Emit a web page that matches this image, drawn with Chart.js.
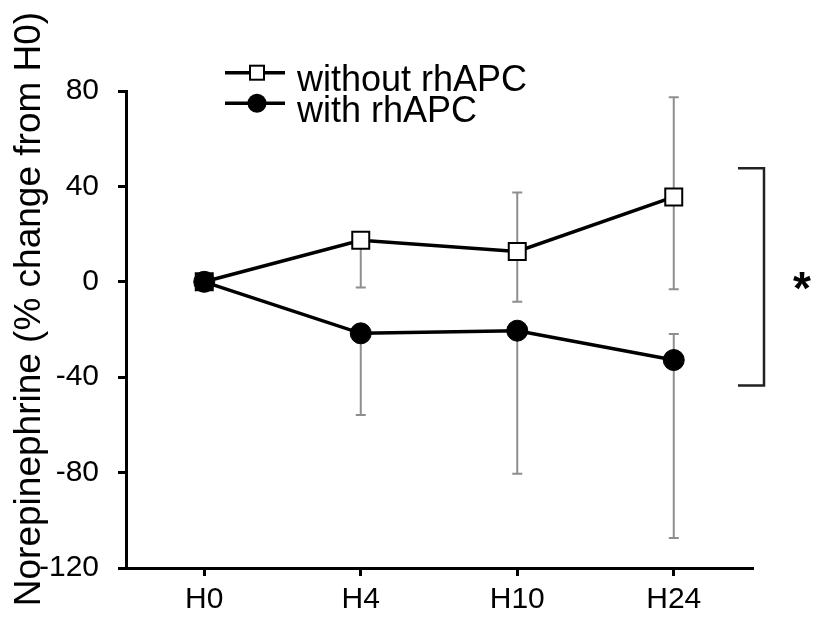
<!DOCTYPE html>
<html><head><meta charset="utf-8">
<script src="https://cdn.jsdelivr.net/npm/chart.js@4/dist/chart.umd.min.js"></script>
<style>html,body{margin:0;padding:0;background:#fff}#wrap{width:814px;height:624px}</style>
</head><body><div id="wrap"><canvas id="c" width="814" height="624"></canvas></div>
<script>
const categories = ['H0', 'H4', 'H10', 'H24'];
const seriesNames = ['without rhAPC', 'with rhAPC'];
const withoutValues = [0, 17.4, 12.7, 35.6];
const withoutUpper = [null, null, 37.4, 77.4];
const withoutLower = [null, -2.4, -8.4, -3.1];
const withValues = [0, -21.6, -20.5, -32.8];
const withUpper = [null, null, null, -21.9];
const withLower = [null, -55.8, -80.5, -107.4];
const yTicks = [-120, -80, -40, 0, 40, 80];
const yTitle = 'Norepinephrine (% change from H0)';
const bracketRange = [47.6, -43.5];
const significanceMark = '*';

const FONT = "'Liberation Sans', Arial, Helvetica, sans-serif";
Chart.defaults.font.family = FONT;
Chart.defaults.color = '#000';

const errorBars = {
  id: 'errorBars',
  beforeDatasetsDraw(chart) {
    const { ctx, scales: { x, y } } = chart;
    ctx.save();
    ctx.strokeStyle = '#8e8e8e';
    ctx.lineWidth = 2;
    const groups = [[withoutValues, withoutUpper, withoutLower], [withValues, withUpper, withLower]];
    groups.forEach(([vals, up, lo]) => {
      vals.forEach((v, i) => {
        const px = x.getPixelForValue(i);
        const py = y.getPixelForValue(v);
        [up[i], lo[i]].forEach(e => {
          if (e === null || e === undefined) return;
          const ey = y.getPixelForValue(e);
          ctx.beginPath();
          ctx.moveTo(px, py); ctx.lineTo(px, ey);
          ctx.moveTo(px - 5, ey); ctx.lineTo(px + 5, ey);
          ctx.stroke();
        });
      });
    });
    ctx.restore();
  }
};

const decorations = {
  id: 'decorations',
  afterDraw(chart) {
    const { ctx, scales: { y }, chartArea } = chart;
    ctx.save();
    // y axis title
    ctx.save();
    ctx.translate(39.5, 309);
    ctx.rotate(-Math.PI / 2);
    ctx.font = '37px ' + FONT;
    ctx.fillStyle = '#000';
    ctx.textAlign = 'center';
    ctx.textBaseline = 'alphabetic';
    ctx.fillText(yTitle, 0, 0);
    ctx.restore();

    // legend
    const rows = [72.7, 103.3];
    ctx.strokeStyle = '#000';
    ctx.lineWidth = 3.5;
    rows.forEach((ry, i) => {
      ctx.beginPath(); ctx.moveTo(225, ry); ctx.lineTo(285, ry); ctx.stroke();
      if (i === 0) {
        ctx.fillStyle = '#fff';
        ctx.fillRect(250, ry - 7, 14, 14);
        ctx.lineWidth = 2;
        ctx.strokeRect(250, ry - 7, 14, 14);
        ctx.lineWidth = 3.5;
      } else {
        ctx.fillStyle = '#000';
        ctx.beginPath(); ctx.arc(257, ry, 9.5, 0, Math.PI * 2); ctx.fill();
      }
      ctx.fillStyle = '#000';
      ctx.font = '36px ' + FONT;
      ctx.textAlign = 'left';
      ctx.textBaseline = 'alphabetic';
      ctx.fillText(seriesNames[i], 297, ry + 18.5);
    });

    // significance bracket
    const top = y.getPixelForValue(bracketRange[0]);
    const bot = y.getPixelForValue(bracketRange[1]);
    const bx = chartArea.right + 12;
    ctx.strokeStyle = '#222';
    ctx.lineWidth = 2.5;
    ctx.beginPath();
    ctx.moveTo(chartArea.right - 14, top);
    ctx.lineTo(bx, top);
    ctx.lineTo(bx, bot);
    ctx.lineTo(chartArea.right - 14, bot);
    ctx.stroke();
    ctx.fillStyle = '#000';
    ctx.font = 'bold 46px ' + FONT;
    ctx.textAlign = 'center';
    ctx.textBaseline = 'alphabetic';
    ctx.fillText(significanceMark, bx + 38, y.getPixelForValue(0) + 22);
    ctx.restore();
  }
};

new Chart(document.getElementById('c'), {
  type: 'line',
  data: {
    labels: categories,
    datasets: [
      {
        label: seriesNames[0],
        data: withoutValues,
        order: 2,
        borderColor: '#000',
        borderWidth: 3.5,
        pointStyle: 'rect',
        pointRadius: 12,
        pointBorderWidth: 2,
        pointBackgroundColor: '#fff',
        pointBorderColor: '#000',
        tension: 0,
        fill: false
      },
      {
        label: seriesNames[1],
        data: withValues,
        order: 1,
        borderColor: '#000',
        borderWidth: 3.5,
        pointStyle: 'circle',
        pointRadius: 10.5,
        pointBorderWidth: 1,
        pointBackgroundColor: '#000',
        pointBorderColor: '#000',
        tension: 0,
        fill: false
      }
    ]
  },
  options: {
    responsive: false,
    animation: false,
    events: [],
    layout: { padding: { top: 91, right: 62, left: 0, bottom: 0 } },
    plugins: { legend: { display: false }, tooltip: { enabled: false }, title: { display: false } },
    scales: {
      x: {
        type: 'category',
        offset: true,
        border: { display: true, color: '#000', width: 3 },
        grid: { display: true, drawOnChartArea: false, drawTicks: true, tickLength: 8, color: '#000', lineWidth: 3, offset: false },
        ticks: { font: { size: 30 }, color: '#000', padding: 6, maxRotation: 0, autoSkip: false },
        afterFit(scale) { scale.height = 56; }
      },
      y: {
        min: -120,
        max: 80,
        afterBuildTicks(scale) { scale.ticks = yTicks.map(v => ({ value: v })); },
        border: { display: true, color: '#000', width: 3 },
        grid: { display: true, drawOnChartArea: false, drawTicks: true, tickLength: 8, color: '#000', lineWidth: 3 },
        ticks: { font: { size: 30 }, color: '#000', padding: 19 },
        afterFit(scale) { scale.width = 126; }
      }
    }
  },
  plugins: [errorBars, decorations]
});
</script>
</body></html>
